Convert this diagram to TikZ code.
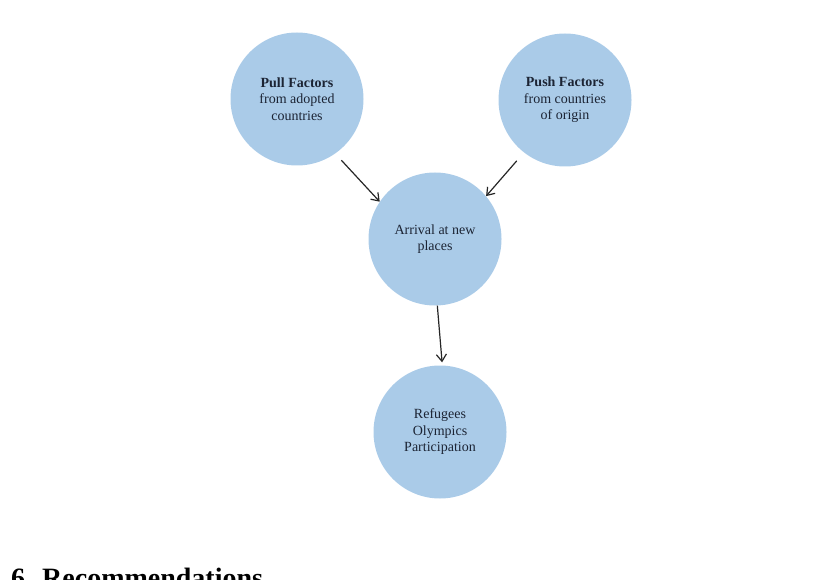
\documentclass[tikz,border=0pt]{standalone}
\usepackage{fontspec}
\setmainfont{Liberation Serif}
\usetikzlibrary{arrows.meta}
\definecolor{bubble}{RGB}{170,203,232}
\definecolor{ink}{RGB}{28,36,52}
\tikzset{
  bubble/.style={circle, fill=bubble, minimum size=133pt, inner sep=0pt, align=center,
    text=ink, font=\fontsize{14}{16.5}\selectfont},
  link/.style={draw=black!85, line width=1.2pt, -{Straight Barb[length=7pt,width=10pt,line width=1.2pt]}}
}
\begin{document}
\begin{tikzpicture}[x=1pt,y=-1pt]
\useasboundingbox (0,0) rectangle (832,580);
\node[bubble] (pull) at (297,99) {\textbf{Pull Factors}\\from adopted\\countries};
\node[bubble] (push) at (565,100) {\textbf{Push Factors}\\from countries\\of origin};
\node[bubble] (arr) at (435,239) {Arrival at new\\places};
\node[bubble] (ref) at (440,432) {Refugees\\Olympics\\Participation};
\draw[link, shorten <=9pt] (pull.-55) -- (arr.146);
\draw[link, shorten <=11pt] (push.-128) -- (arr.40);
\draw[link, shorten >=3pt] (arr.-88) -- (ref.88);
\begin{scope}
\clip (0,0) rectangle (832,580);
\node[anchor=base west, inner sep=0pt, font=\fontsize{28}{32}\selectfont\bfseries] (head) at (11,587) {6.\hspace{10pt}Recommendations};
\end{scope}
\end{tikzpicture}
\end{document}
